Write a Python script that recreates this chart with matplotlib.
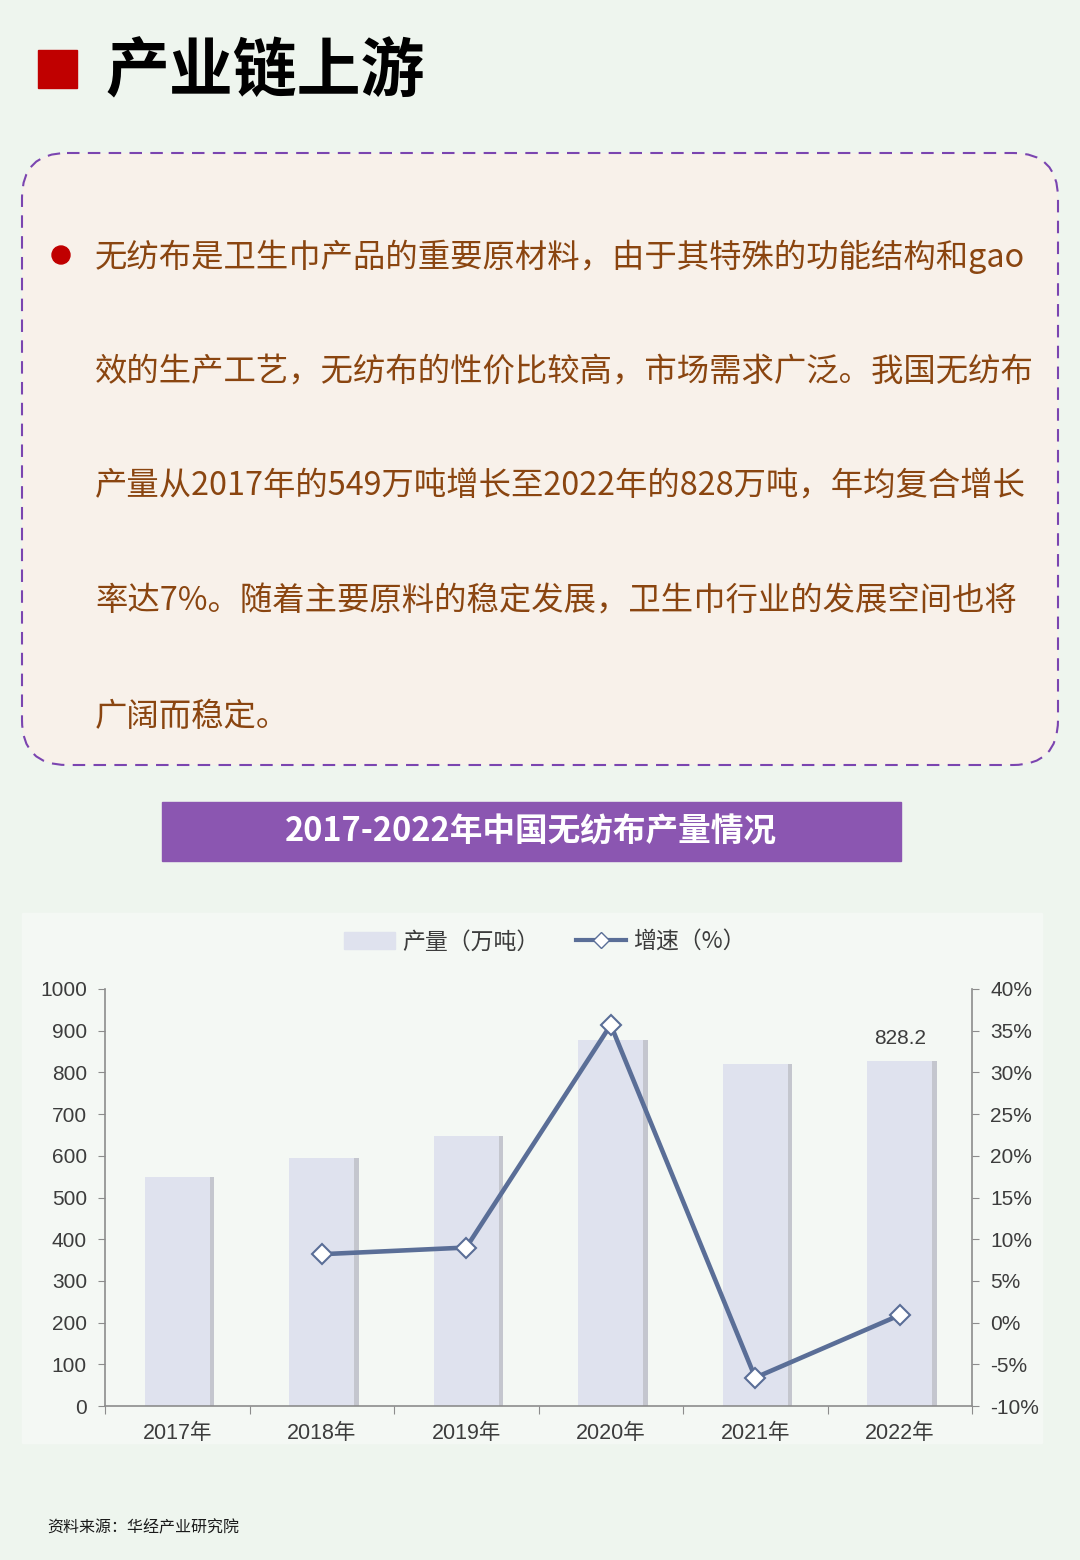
import numpy as np
import matplotlib
matplotlib.use("Agg")
import matplotlib.pyplot as plt
from matplotlib import font_manager
from matplotlib.patches import FancyBboxPatch, Rectangle, Circle
from matplotlib.lines import Line2D

# data
years  = ["2017年", "2018年", "2019年", "2020年", "2021年", "2022年"]
output = [549, 594, 647, 878, 820, 828.2]           # 产量（万吨）
growth = [np.nan, 8.2, 9.0, 35.7, -6.6, 0.9]         # 增速（%）

title      = "产业链上游"
chart_name = "2017-2022年中国无纺布产量情况"
source     = "资料来源：华经产业研究院"
para_lines = [
    "无纺布是卫生巾产品的重要原材料，由于其特殊的功能结构和gao",
    "效的生产工艺，无纺布的性价比较高，市场需求广泛。我国无纺布",
    "产量从2017年的549万吨增长至2022年的828万吨，年均复合增长",
    "率达7%。随着主要原料的稳定发展，卫生巾行业的发展空间也将",
    "广阔而稳定。",
]

PAGE_BG   = "#eef5ee"
BOX_BG    = "#f8f1ea"
PANEL_BG  = "#f4f8f4"
BROWN     = "#8a4510"
RED       = "#c00000"
PURPLE    = "#8b56b1"
BAR_COL   = "#dfe2ee"
LINE_COL  = "#5a6e97"
AXIS_COL  = "#8c8c8c"
TXT_GREY  = "#3c3c3c"

CJK = "Noto Sans CJK SC"
names = {f.name for f in font_manager.fontManager.ttflist}
NARROW = "Liberation Sans Narrow" if "Liberation Sans Narrow" in names else "Liberation Sans"
plt.rcParams["font.family"] = [CJK, "DejaVu Sans"]
NUM_FONT = [NARROW, CJK]

W, H = 1080, 1560
fig = plt.figure(figsize=(W / 100, H / 100), dpi=100, facecolor=PAGE_BG)

# page layer in pixel coordinates
bg = fig.add_axes([0, 0, 1, 1], zorder=0)
bg.set_xlim(0, W)
bg.set_ylim(H, 0)
bg.axis("off")

bg.add_patch(Rectangle((38, 50), 39, 38, color=RED))
bg.text(105, 73, title, fontsize=46, fontweight="bold", color="black",
        ha="left", va="center")

bg.add_patch(FancyBboxPatch((22, 153), 1036, 612,
                            boxstyle="round,pad=0,rounding_size=45",
                            facecolor=BOX_BG, edgecolor="#7b45b0",
                            linewidth=1.5, linestyle=(0, (6, 4))))
bg.add_patch(Circle((61, 255), 9, color=RED))
for i, line in enumerate(para_lines):
    bg.text(95, 257 + i * 115, line, fontsize=23.3, color=BROWN,
            ha="left", va="center")

bg.add_patch(Rectangle((162, 802), 739, 59, color=PURPLE))
bg.text(531, 832, chart_name, fontsize=23.5, fontweight="bold", color="white",
        ha="center", va="center")

bg.add_patch(Rectangle((22, 913), 1020, 530, color=PANEL_BG))
bg.text(47, 1528, source, fontsize=11.5, color="#1a1a1a", ha="left", va="center")

# chart
ax = fig.add_axes([105 / W, 1 - 1406 / H, 867 / W, 417 / H], zorder=2)
ax.set_facecolor("none")
x = np.arange(len(years))

ax.bar(x + 0.03, output, width=0.45, color="#c4c6ce", zorder=1)
ax.bar(x, output, width=0.45, color=BAR_COL, zorder=2)
ax.annotate(f"{output[-1]:.1f}", (x[-1], output[-1]), xytext=(0, 9),
            textcoords="offset points", ha="center", va="bottom",
            fontsize=15, color=TXT_GREY, family=NUM_FONT)

ax.set_xlim(-0.5, len(years) - 0.5)
ax.set_ylim(0, 1000)
ax.set_yticks(np.arange(0, 1001, 100))
ax.set_xticks(np.arange(-0.5, len(years), 1))
ax.set_xticklabels([])
ax.set_xticks(x, minor=True)
ax.set_xticklabels(years, minor=True, fontsize=15.5, color=TXT_GREY, family=NUM_FONT)
ax.tick_params(axis="x", which="major", length=6, color=AXIS_COL)
ax.tick_params(axis="x", which="minor", length=0, pad=12)
ax.tick_params(axis="y", length=5, color=AXIS_COL, pad=8)
for lab in ax.get_yticklabels():
    lab.set_fontsize(15)
    lab.set_color(TXT_GREY)
    lab.set_family(NUM_FONT)
for s in ["top", "right"]:
    ax.spines[s].set_visible(False)
for s in ["left", "bottom"]:
    ax.spines[s].set_color(AXIS_COL)
    ax.spines[s].set_linewidth(1.2)

ax2 = ax.twinx()
ax2.plot(x, growth, color=LINE_COL, linewidth=3.3, marker="D", markersize=10,
         markerfacecolor="white", markeredgecolor=LINE_COL, markeredgewidth=1.5,
         zorder=5)
ax2.set_ylim(-10, 40)
ax2.set_yticks(np.arange(-10, 41, 5))
ax2.set_yticklabels([f"{v}%" for v in range(-10, 41, 5)], fontsize=15,
                    color=TXT_GREY, family=NUM_FONT)
ax2.tick_params(axis="y", length=5, color=AXIS_COL, pad=8)
for s in ["top", "left", "bottom"]:
    ax2.spines[s].set_visible(False)
ax2.spines["right"].set_color(AXIS_COL)
ax2.spines["right"].set_linewidth(1.2)

handles = [
    Rectangle((0, 0), 1, 1, color=BAR_COL),
    Line2D([0], [0], color=LINE_COL, linewidth=3, marker="D", markersize=8,
           markerfacecolor="white", markeredgecolor=LINE_COL),
]
leg = fig.legend(handles, ["产量（万吨）", "增速（%）"], loc="center",
                 bbox_to_anchor=(545 / W, 1 - 942 / H), ncol=2, frameon=False,
                 fontsize=16.5, handlelength=2.2, columnspacing=1.6, handletextpad=0.3)
for t in leg.get_texts():
    t.set_color(TXT_GREY)

fig.savefig("out.png", dpi=100, facecolor=PAGE_BG)
